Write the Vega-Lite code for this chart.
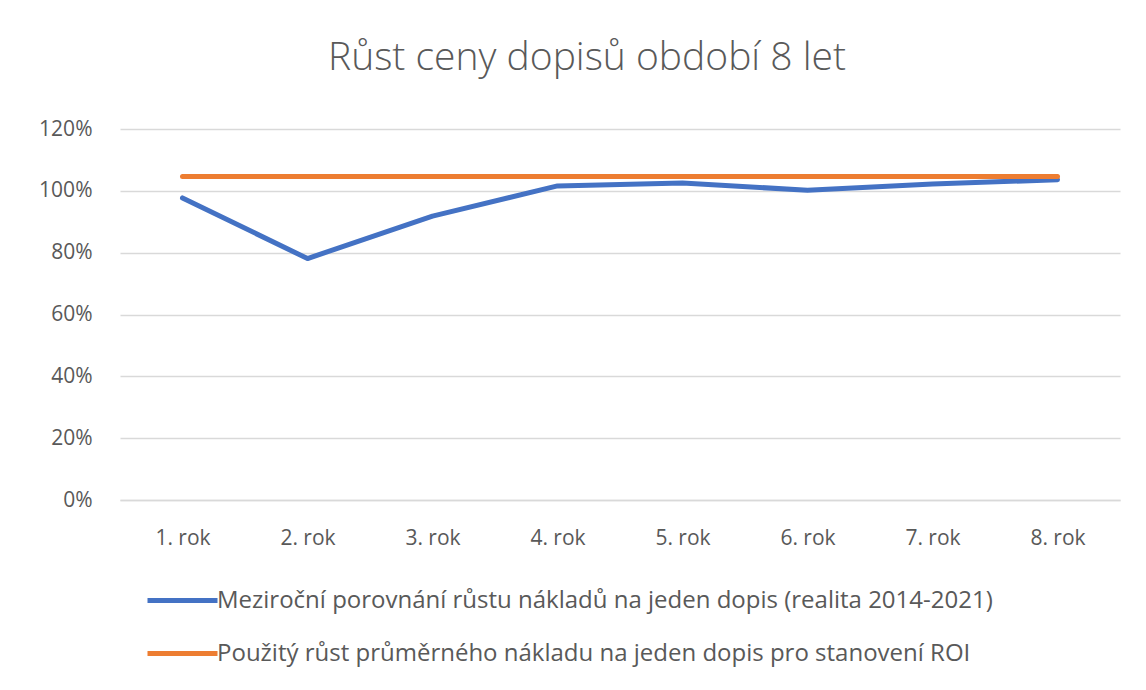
{
  "$schema": "https://vega.github.io/schema/vega-lite/v6.json",
  "width": 1000,
  "height": 371,
  "autosize": "none",
  "padding": {"left": 120, "top": 129, "right": 26, "bottom": 190},
  "background": "white",
  "title": {
    "text": "Růst ceny dopisů období 8 let",
    "font": "Open Sans",
    "fontSize": 39,
    "fontWeight": 300,
    "color": "#595959",
    "anchor": "middle",
    "dx": -33,
    "offset": 40
  },
  "data": {
    "values": [
      {"rok": "1. rok", "serie": "Meziroční porovnání růstu nákladů na jeden dopis (realita 2014-2021)", "hodnota": 0.977},
      {"rok": "2. rok", "serie": "Meziroční porovnání růstu nákladů na jeden dopis (realita 2014-2021)", "hodnota": 0.781},
      {"rok": "3. rok", "serie": "Meziroční porovnání růstu nákladů na jeden dopis (realita 2014-2021)", "hodnota": 0.918},
      {"rok": "4. rok", "serie": "Meziroční porovnání růstu nákladů na jeden dopis (realita 2014-2021)", "hodnota": 1.016},
      {"rok": "5. rok", "serie": "Meziroční porovnání růstu nákladů na jeden dopis (realita 2014-2021)", "hodnota": 1.025},
      {"rok": "6. rok", "serie": "Meziroční porovnání růstu nákladů na jeden dopis (realita 2014-2021)", "hodnota": 1.002},
      {"rok": "7. rok", "serie": "Meziroční porovnání růstu nákladů na jeden dopis (realita 2014-2021)", "hodnota": 1.022},
      {"rok": "8. rok", "serie": "Meziroční porovnání růstu nákladů na jeden dopis (realita 2014-2021)", "hodnota": 1.036},
      {"rok": "1. rok", "serie": "Použitý růst průměrného nákladu na jeden dopis pro stanovení ROI", "hodnota": 1.046},
      {"rok": "2. rok", "serie": "Použitý růst průměrného nákladu na jeden dopis pro stanovení ROI", "hodnota": 1.046},
      {"rok": "3. rok", "serie": "Použitý růst průměrného nákladu na jeden dopis pro stanovení ROI", "hodnota": 1.046},
      {"rok": "4. rok", "serie": "Použitý růst průměrného nákladu na jeden dopis pro stanovení ROI", "hodnota": 1.046},
      {"rok": "5. rok", "serie": "Použitý růst průměrného nákladu na jeden dopis pro stanovení ROI", "hodnota": 1.046},
      {"rok": "6. rok", "serie": "Použitý růst průměrného nákladu na jeden dopis pro stanovení ROI", "hodnota": 1.046},
      {"rok": "7. rok", "serie": "Použitý růst průměrného nákladu na jeden dopis pro stanovení ROI", "hodnota": 1.046},
      {"rok": "8. rok", "serie": "Použitý růst průměrného nákladu na jeden dopis pro stanovení ROI", "hodnota": 1.046}
    ]
  },
  "mark": {"type": "line", "strokeWidth": 5, "strokeCap": "round", "strokeJoin": "round"},
  "encoding": {
    "x": {
      "field": "rok",
      "type": "nominal",
      "sort": null,
      "scale": {"type": "point", "padding": 0.5},
      "axis": {
        "title": null,
        "labelAngle": 0,
        "labelFont": "Open Sans",
        "labelFontSize": 21,
        "labelColor": "#595959",
        "labelPadding": 27,
        "ticks": false,
        "domainColor": "#d9d9d9",
        "domainWidth": 1.5,
        "grid": false
      }
    },
    "y": {
      "field": "hodnota",
      "type": "quantitative",
      "scale": {"domain": [0, 1.2], "nice": false},
      "axis": {
        "title": null,
        "format": ".0%",
        "values": [0, 0.2, 0.4, 0.6, 0.8, 1.0, 1.2],
        "labelFont": "Open Sans",
        "labelFontSize": 21,
        "labelColor": "#595959",
        "labelPadding": 28,
        "ticks": false,
        "domain": false,
        "gridColor": "#d9d9d9",
        "gridWidth": 1.5
      }
    },
    "color": {
      "field": "serie",
      "type": "nominal",
      "scale": {
        "domain": [
          "Meziroční porovnání růstu nákladů na jeden dopis (realita 2014-2021)",
          "Použitý růst průměrného nákladu na jeden dopis pro stanovení ROI"
        ],
        "range": ["#4472C4", "#ED7D31"]
      },
      "legend": {
        "title": null,
        "orient": "none",
        "legendX": 25,
        "legendY": 434,
        "direction": "vertical",
        "symbolType": "stroke",
        "symbolSize": 4900,
        "symbolStrokeWidth": 5,
        "labelFont": "Open Sans",
        "labelFontSize": 24,
        "labelColor": "#595959",
        "labelOffset": -3,
        "rowPadding": 3,
        "labelLimit": 1000
      }
    }
  },
  "config": {"view": {"stroke": null}}
}
